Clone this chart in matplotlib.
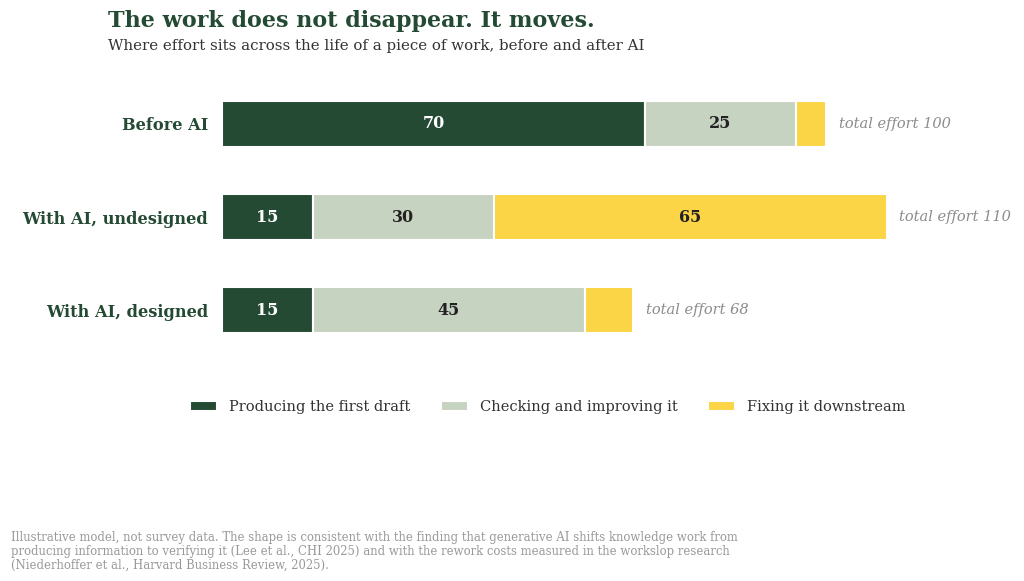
import matplotlib.pyplot as plt

plt.rcParams['font.family'] = ['DejaVu Serif']

rows = ['Before AI', 'With AI, undesigned', 'With AI, designed']
draft = [70, 15, 15]
checking = [25, 30, 45]
fixing = [5, 65, 8]
stages = ['Producing the first draft', 'Checking and improving it', 'Fixing it downstream']
colors = ['#244a33', '#c7d3c1', '#fbd545']
text_colors = ['white', '#222222', '#222222']

fig = plt.figure(figsize=(10.24, 5.81), dpi=100)
ax = fig.add_axes([222 / 1024, 1 - 366 / 581, 725 / 1024, 298 / 581])

ypos = list(range(len(rows)))
left = [0, 0, 0]
for series, color, tc, name in zip([draft, checking, fixing], colors, text_colors, stages):
    ax.barh(ypos, series, left=left, height=0.5, color=color, edgecolor='white',
            linewidth=1.5, label=name)
    for y, v, l in zip(ypos, series, left):
        if v >= 10:
            ax.text(l + v / 2, y, str(v), ha='center', va='center', color=tc,
                    fontsize=11.5, fontweight='bold')
    left = [l + v for l, v in zip(left, series)]

for y, tot in zip(ypos, left):
    ax.text(tot + 2.1, y, f'total effort {tot}', ha='left', va='center', color='#8c8c8c',
            fontsize=10.5, style='italic', clip_on=False)

ax.set_xlim(0, 120)
ax.set_ylim(2.6, -0.6)
ax.set_yticks(ypos)
ax.set_yticklabels(rows, fontsize=11.7, fontweight='bold', color='#244a33')
ax.tick_params(axis='y', length=0, pad=10)
ax.set_xticks([])
for s in ax.spines.values():
    s.set_visible(False)

leg = fig.legend(loc='center', bbox_to_anchor=(0.535, 1 - 407 / 581), ncol=3, frameon=False,
                 fontsize=10.5, handlelength=1.85, handleheight=0.7, handletextpad=0.8,
                 columnspacing=2.1)
for t in leg.get_texts():
    t.set_color('#333333')

fig.text(108 / 1024, 1 - 21 / 581, 'The work does not disappear. It moves.', fontsize=16,
         fontweight='bold', color='#244a33', va='center')
fig.text(108 / 1024, 1 - 46 / 581,
         'Where effort sits across the life of a piece of work, before and after AI',
         fontsize=10.85, color='#333333', va='center')
fig.text(11 / 1024, 1 - 551 / 581,
         'Illustrative model, not survey data. The shape is consistent with the finding that generative AI shifts knowledge work from\n'
         'producing information to verifying it (Lee et al., CHI 2025) and with the rework costs measured in the workslop research\n'
         '(Niederhoffer et al., Harvard Business Review, 2025).',
         fontsize=8.4, color='#999999', va='center', linespacing=1.08)

fig.savefig('out.png', dpi=100)
